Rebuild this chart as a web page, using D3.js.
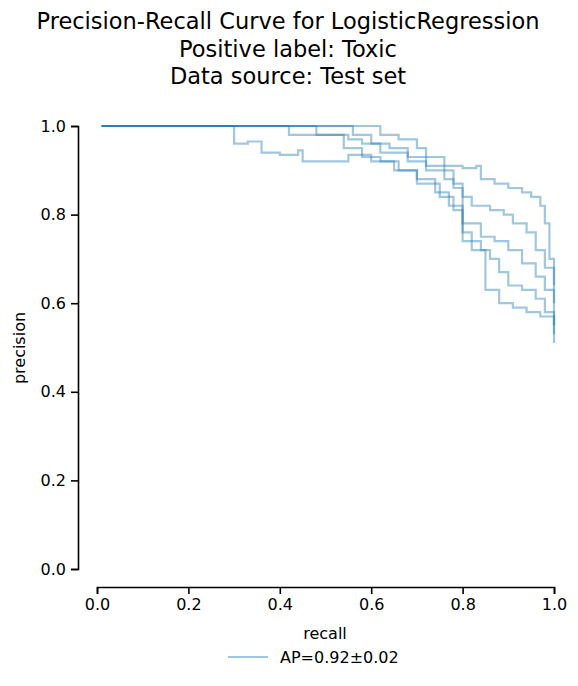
<!DOCTYPE html>
<html><head><meta charset="utf-8">
<script src="https://cdn.jsdelivr.net/npm/d3@7"></script>
<style>body{margin:0;background:#fff;font-family:"DejaVu Sans",sans-serif}</style>
</head><body><div id="wrapper"></div>
<script>
const titleLines = ["Precision-Recall Curve for LogisticRegression", "Positive label: Toxic", "Data source: Test set"];
const ticks = [0, 0.2, 0.4, 0.6, 0.8, 1.0];
const legendLabel = "AP=0.92±0.02";
// one [recall, precision] list per fold
const fold1 = [[0.01,1],[0.60,1],[0.62,0.98],[0.66,0.97],[0.70,0.95],[0.72,0.93],[0.76,0.91],[0.80,0.905],[0.83,0.91],[0.84,0.88],[0.87,0.87],[0.90,0.86],[0.93,0.85],[0.95,0.84],[0.97,0.82],[0.98,0.78],[0.99,0.70],[1.0,0.64]];
const fold2 = [[0.01,1],[0.55,1],[0.56,0.98],[0.60,0.96],[0.64,0.95],[0.68,0.93],[0.72,0.91],[0.76,0.88],[0.78,0.86],[0.80,0.84],[0.82,0.82],[0.86,0.81],[0.89,0.80],[0.91,0.78],[0.94,0.76],[0.96,0.72],[0.98,0.68],[1.0,0.60]];
const fold3 = [[0.01,1],[0.46,1],[0.48,0.98],[0.54,0.95],[0.58,0.93],[0.62,0.92],[0.66,0.90],[0.70,0.88],[0.74,0.85],[0.77,0.82],[0.80,0.78],[0.84,0.75],[0.87,0.74],[0.90,0.72],[0.93,0.69],[0.96,0.66],[0.98,0.63],[1.0,0.55]];
const fold4 = [[0.01,1],[0.30,1],[0.30,0.96],[0.33,0.965],[0.36,0.94],[0.40,0.935],[0.44,0.945],[0.45,0.92],[0.55,0.935],[0.60,0.92],[0.65,0.90],[0.70,0.87],[0.75,0.84],[0.78,0.81],[0.80,0.74],[0.84,0.72],[0.86,0.70],[0.88,0.67],[0.90,0.64],[0.93,0.63],[0.96,0.61],[0.98,0.58],[1.0,0.51]];
const fold5 = [[0.01,1],[0.40,1],[0.42,0.98],[0.50,0.98],[0.55,0.97],[0.58,0.96],[0.62,0.94],[0.68,0.92],[0.72,0.90],[0.78,0.87],[0.80,0.76],[0.82,0.72],[0.85,0.63],[0.88,0.60],[0.91,0.59],[0.94,0.58],[0.97,0.57],[1.0,0.53]];
const folds = [fold1, fold2, fold3, fold4, fold5];

const svg = d3.select("#wrapper").append("svg").attr("width", 578).attr("height", 686);

const x = d3.scaleLinear().domain([0, 1]).range([97, 554]);
const y = d3.scaleLinear().domain([0, 1]).range([569, 126]);

svg.selectAll("text.title").data(titleLines).enter().append("text")
  .attr("x", 288).attr("y", (d, i) => 29 + i * 27.5)
  .attr("text-anchor", "middle").style("font-size", "22.5px").text(d => d);

const ax = svg.append("g").attr("transform", "translate(0,587)")
  .call(d3.axisBottom(x).tickValues(ticks).tickFormat(d3.format(".1f")).tickSizeOuter(0).tickSize(7).tickPadding(5));
const ay = svg.append("g").attr("transform", "translate(78,0)")
  .call(d3.axisLeft(y).tickValues(ticks).tickFormat(d3.format(".1f")).tickSizeOuter(0).tickSize(7).tickPadding(5));
[ax, ay].forEach(g => {
  g.selectAll("text").style("font-size", "16px").style("font-family", "DejaVu Sans").attr("fill", "#000");
  g.selectAll("line,path").attr("stroke", "#000").attr("stroke-width", 1.6);
});

svg.append("text").attr("x", 325).attr("y", 639).attr("text-anchor", "middle").style("font-size", "16px").text("recall");
svg.append("text").attr("transform", "translate(25,348)rotate(-90)").attr("text-anchor", "middle").style("font-size", "16px").text("precision");

const line = d3.line().x(d => x(d[0])).y(d => y(d[1])).curve(d3.curveStepAfter);
svg.selectAll("path.fold").data(folds).enter().append("path")
  .attr("d", line).attr("fill", "none")
  .attr("stroke", "#1f77b4").attr("stroke-opacity", 0.42).attr("stroke-width", 2.2);

svg.append("line").attr("x1", 228).attr("x2", 268).attr("y1", 657).attr("y2", 657)
  .attr("stroke", "#1f77b4").attr("stroke-opacity", 0.42).attr("stroke-width", 2.2);
svg.append("text").attr("x", 280).attr("y", 663).style("font-size", "16px").text(legendLabel);
</script></body></html>
